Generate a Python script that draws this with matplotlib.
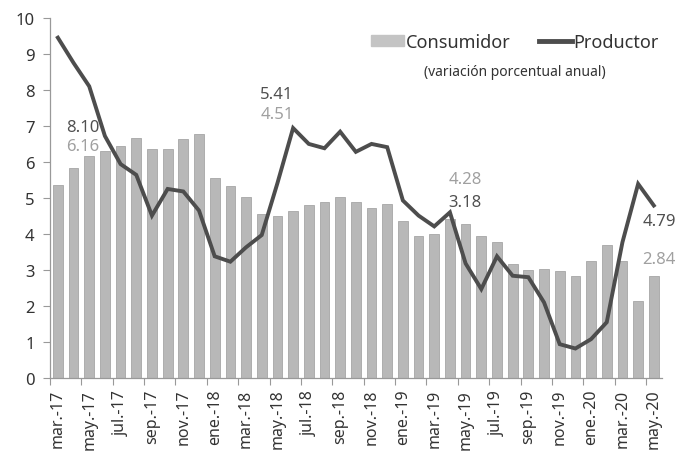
import matplotlib.pyplot as plt
import numpy as np
from matplotlib.lines import Line2D
from matplotlib.patches import Patch

plt.rcParams['font.family'] = ['Noto Sans', 'DejaVu Sans']

# meses mar-17 ... may-20
months = ['mar.-17', 'abr.-17', 'may.-17', 'jun.-17', 'jul.-17', 'ago.-17', 'sep.-17', 'oct.-17',
          'nov.-17', 'dic.-17', 'ene.-18', 'feb.-18', 'mar.-18', 'abr.-18', 'may.-18', 'jun.-18',
          'jul.-18', 'ago.-18', 'sep.-18', 'oct.-18', 'nov.-18', 'dic.-18', 'ene.-19', 'feb.-19',
          'mar.-19', 'abr.-19', 'may.-19', 'jun.-19', 'jul.-19', 'ago.-19', 'sep.-19', 'oct.-19',
          'nov.-19', 'dic.-19', 'ene.-20', 'feb.-20', 'mar.-20', 'abr.-20', 'may.-20']

consumidor = [5.35, 5.82, 6.16, 6.31, 6.44, 6.66, 6.35, 6.37, 6.63, 6.77,
              5.55, 5.34, 5.04, 4.55, 4.51, 4.65, 4.81, 4.90, 5.02, 4.90, 4.72, 4.83,
              4.37, 3.94, 4.00, 4.41, 4.28, 3.95, 3.78, 3.16, 3.00, 3.02, 2.97, 2.83,
              3.24, 3.70, 3.25, 2.15, 2.84]

productor = [9.45, 8.75, 8.10, 6.72, 5.94, 5.64, 4.51, 5.25, 5.18, 4.65,
             3.38, 3.23, 3.63, 3.97, 5.41, 6.94, 6.50, 6.38, 6.84, 6.28, 6.50, 6.41,
             4.93, 4.51, 4.21, 4.60, 3.18, 2.47, 3.38, 2.84, 2.80, 2.10, 0.94, 0.82,
             1.08, 1.55, 3.77, 5.39, 4.79]

# meses con etiqueta de dato
label_months = [2, 14, 26, 38]

x = np.arange(len(months))

fig = plt.figure(figsize=(6.88, 4.6), dpi=100)
ax = fig.add_axes([0.0727, 0.176, 0.889, 0.783])

ax.bar(x, consumidor, width=0.62, color='#b8b8b8', edgecolor='#a6a6a6', linewidth=0.6, zorder=2)
ax.plot(x, productor, color='#4d4d4d', linewidth=2.8, solid_joinstyle='miter', zorder=3)

ax.set_xlim(-0.5, 38.5)
ax.set_ylim(0, 10)
ax.set_yticks(range(0, 11))
ax.tick_params(axis='y', labelsize=12, colors='#999999', labelcolor='#333333',
               length=5, width=0.8, direction='out', pad=6)

ax.set_xticks(np.arange(-0.5, 38, 2))
ax.set_xticklabels([])
ax.tick_params(axis='x', length=5, width=0.8, colors='#999999')
for i in range(0, len(months), 2):
    ax.text(i, -0.3, months[i], rotation=90, ha='center', va='top', fontsize=11.5,
            color='#333333')

for s in ['top', 'right']:
    ax.spines[s].set_visible(False)
for s in ['left', 'bottom']:
    ax.spines[s].set_color('#999999')
    ax.spines[s].set_linewidth(0.9)

# etiquetas de datos (posiciones en pixeles)
pos = {2: (83, 128, 147), 14: (277, 95, 115), 26: (465, 180, 203), 38: (659, 222, 260)}
for i in label_months:
    px, y1, y2 = pos[i]
    if i == 26:
        top, bot = (f'{consumidor[i]:.2f}', '#a0a0a0'), (f'{productor[i]:.2f}', '#505050')
    else:
        top, bot = (f'{productor[i]:.2f}', '#505050'), (f'{consumidor[i]:.2f}', '#a0a0a0')
    fig.text(px / 688, 1 - y1 / 460, top[0], ha='center', va='center', fontsize=12,
             fontweight='bold', color=top[1])
    fig.text(px / 688, 1 - y2 / 460, bot[0], ha='center', va='center', fontsize=12,
             fontweight='bold', color=bot[1])

handles = [Patch(facecolor='#c4c4c4', edgecolor='#c4c4c4'),
           Line2D([0], [0], color='#4d4d4d', linewidth=3.5)]
fig.legend(handles, ['Consumidor', 'Productor'], ncol=2, frameon=False,
           loc='center', bbox_to_anchor=(515 / 688, 1 - 43 / 460), fontsize=13,
           handlelength=1.8, handleheight=0.5, handletextpad=0.1, columnspacing=1.6,
           labelcolor='#333333')
fig.text(515 / 688, 1 - 73 / 460, '(variación porcentual anual)', ha='center', va='center',
         fontsize=10, color='#333333')

fig.savefig('out.png', dpi=100)
